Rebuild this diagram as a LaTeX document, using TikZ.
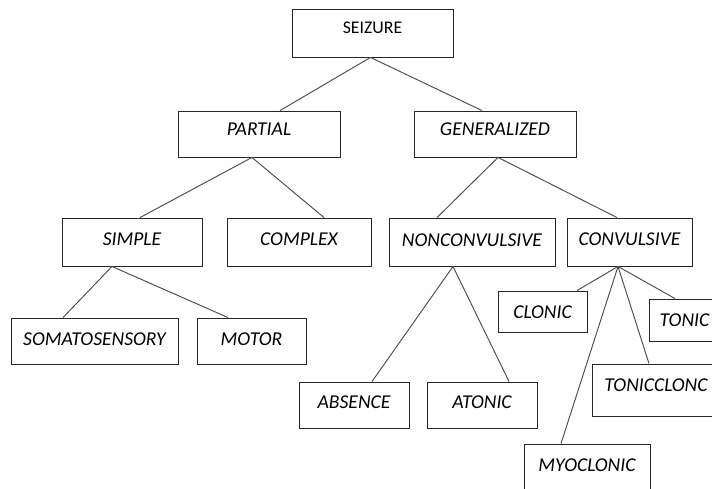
\documentclass[tikz,border=0pt]{standalone}
\usepackage{fontspec}
\setmainfont{Carlito}
\begin{document}
\begin{tikzpicture}[x=1pt,y=-1pt,
    box/.style={draw=black!85, line width=0.9pt, inner sep=0pt,
        font=\fontsize{19.6}{22}\selectfont\itshape},
    link/.style={draw=black!70, line width=0.95pt}]

    \useasboundingbox (0,0) rectangle (712,488);
    \clip (0,0) rectangle (712,488);

    % top
    \node[box, font=\fontsize{17.8}{21}\selectfont, minimum width=161pt,
        text height=24.3pt, text depth=23.7pt] (seizure) at (372.5,33) {SEIZURE};

    \node[box, minimum width=162pt, text height=24pt, text depth=22pt] (partial) at (259,134) {PARTIAL};
    \node[box, minimum width=162pt, text height=24pt, text depth=22pt] (generalized) at (495,134) {GENERALIZED};

    % second row
    \node[box, minimum width=140pt, text height=27.4pt, text depth=20.6pt] (simple) at (132,242) {SIMPLE};
    \node[box, minimum width=144pt, text height=27.4pt, text depth=20.6pt] (complex) at (299,242) {COMPLEX};
    \node[box, minimum width=166pt, text height=28pt, text depth=20pt] (nonconvulsive) at (472,242) {NONCONVULSIVE};
    \node[box, minimum width=125pt, text height=27.5pt, text depth=20.5pt] (convulsive) at (629.5,242) {CONVULSIVE};

    % leaves
    \node[box, minimum width=167pt, text height=27.3pt, text depth=18.7pt] (somatosensory) at (94.5,341) {SOMATOSENSORY};
    \node[box, minimum width=109pt, text height=27.3pt, text depth=18.7pt] (motor) at (251.5,341) {MOTOR};
    \node[box, minimum width=110pt, text height=26.6pt, text depth=19.4pt] (absence) at (354,405) {ABSENCE};
    \node[box, minimum width=110pt, text height=26.6pt, text depth=19.4pt] (atonic) at (482,405) {ATONIC};
    \node[box, minimum width=89pt, text height=27.3pt, text depth=13.7pt] (clonic) at (542.5,311.5) {CLONIC\hspace{12pt}};
    \node[box, minimum width=71pt, text height=27.7pt, text depth=14.3pt] (tonic) at (684.5,320) {TONIC};
    \node[box, minimum width=128pt, text height=27.4pt, text depth=24.6pt] (tonicclonc) at (656,390) {TONICCLONC};
    \node[box, minimum width=126pt, text height=27.4pt, text depth=24.6pt] (myoclonic) at (587,470) {MYOCLONIC};

    % connectors
    \draw[link] ([xshift=-2pt]seizure.south) -- ([xshift=21pt]partial.north);
    \draw[link] ([xshift=-2pt]seizure.south) -- ([xshift=-13pt]generalized.north);
    \draw[link] ([xshift=-7pt]partial.south) -- ([xshift=8pt]simple.north);
    \draw[link] ([xshift=-7pt]partial.south) -- ([xshift=25pt]complex.north);
    \draw[link] ([xshift=3pt]generalized.south) -- ([xshift=-35pt]nonconvulsive.north);
    \draw[link] ([xshift=3pt]generalized.south) -- ([xshift=-12.5pt]convulsive.north);
    \draw[link] ([xshift=-20pt]simple.south) -- ([xshift=-31.5pt]somatosensory.north);
    \draw[link] ([xshift=-20pt]simple.south) -- ([xshift=-23.5pt]motor.north);
    \draw[link] ([xshift=-19pt]nonconvulsive.south) -- ([xshift=18pt]absence.north);
    \draw[link] ([xshift=-19pt]nonconvulsive.south) -- ([xshift=27pt]atonic.north);
    \draw[link] ([xshift=-11.5pt]convulsive.south) -- ([xshift=34.5pt]clonic.north);
    \draw[link] ([xshift=-11.5pt]convulsive.south) -- ([xshift=-9.5pt]tonic.north);
    \draw[link] ([xshift=-11.5pt]convulsive.south) -- ([xshift=-7pt]tonicclonc.north);
    \draw[link] ([xshift=-11.5pt]convulsive.south) -- ([xshift=-26pt]myoclonic.north);

\end{tikzpicture}
\end{document}
